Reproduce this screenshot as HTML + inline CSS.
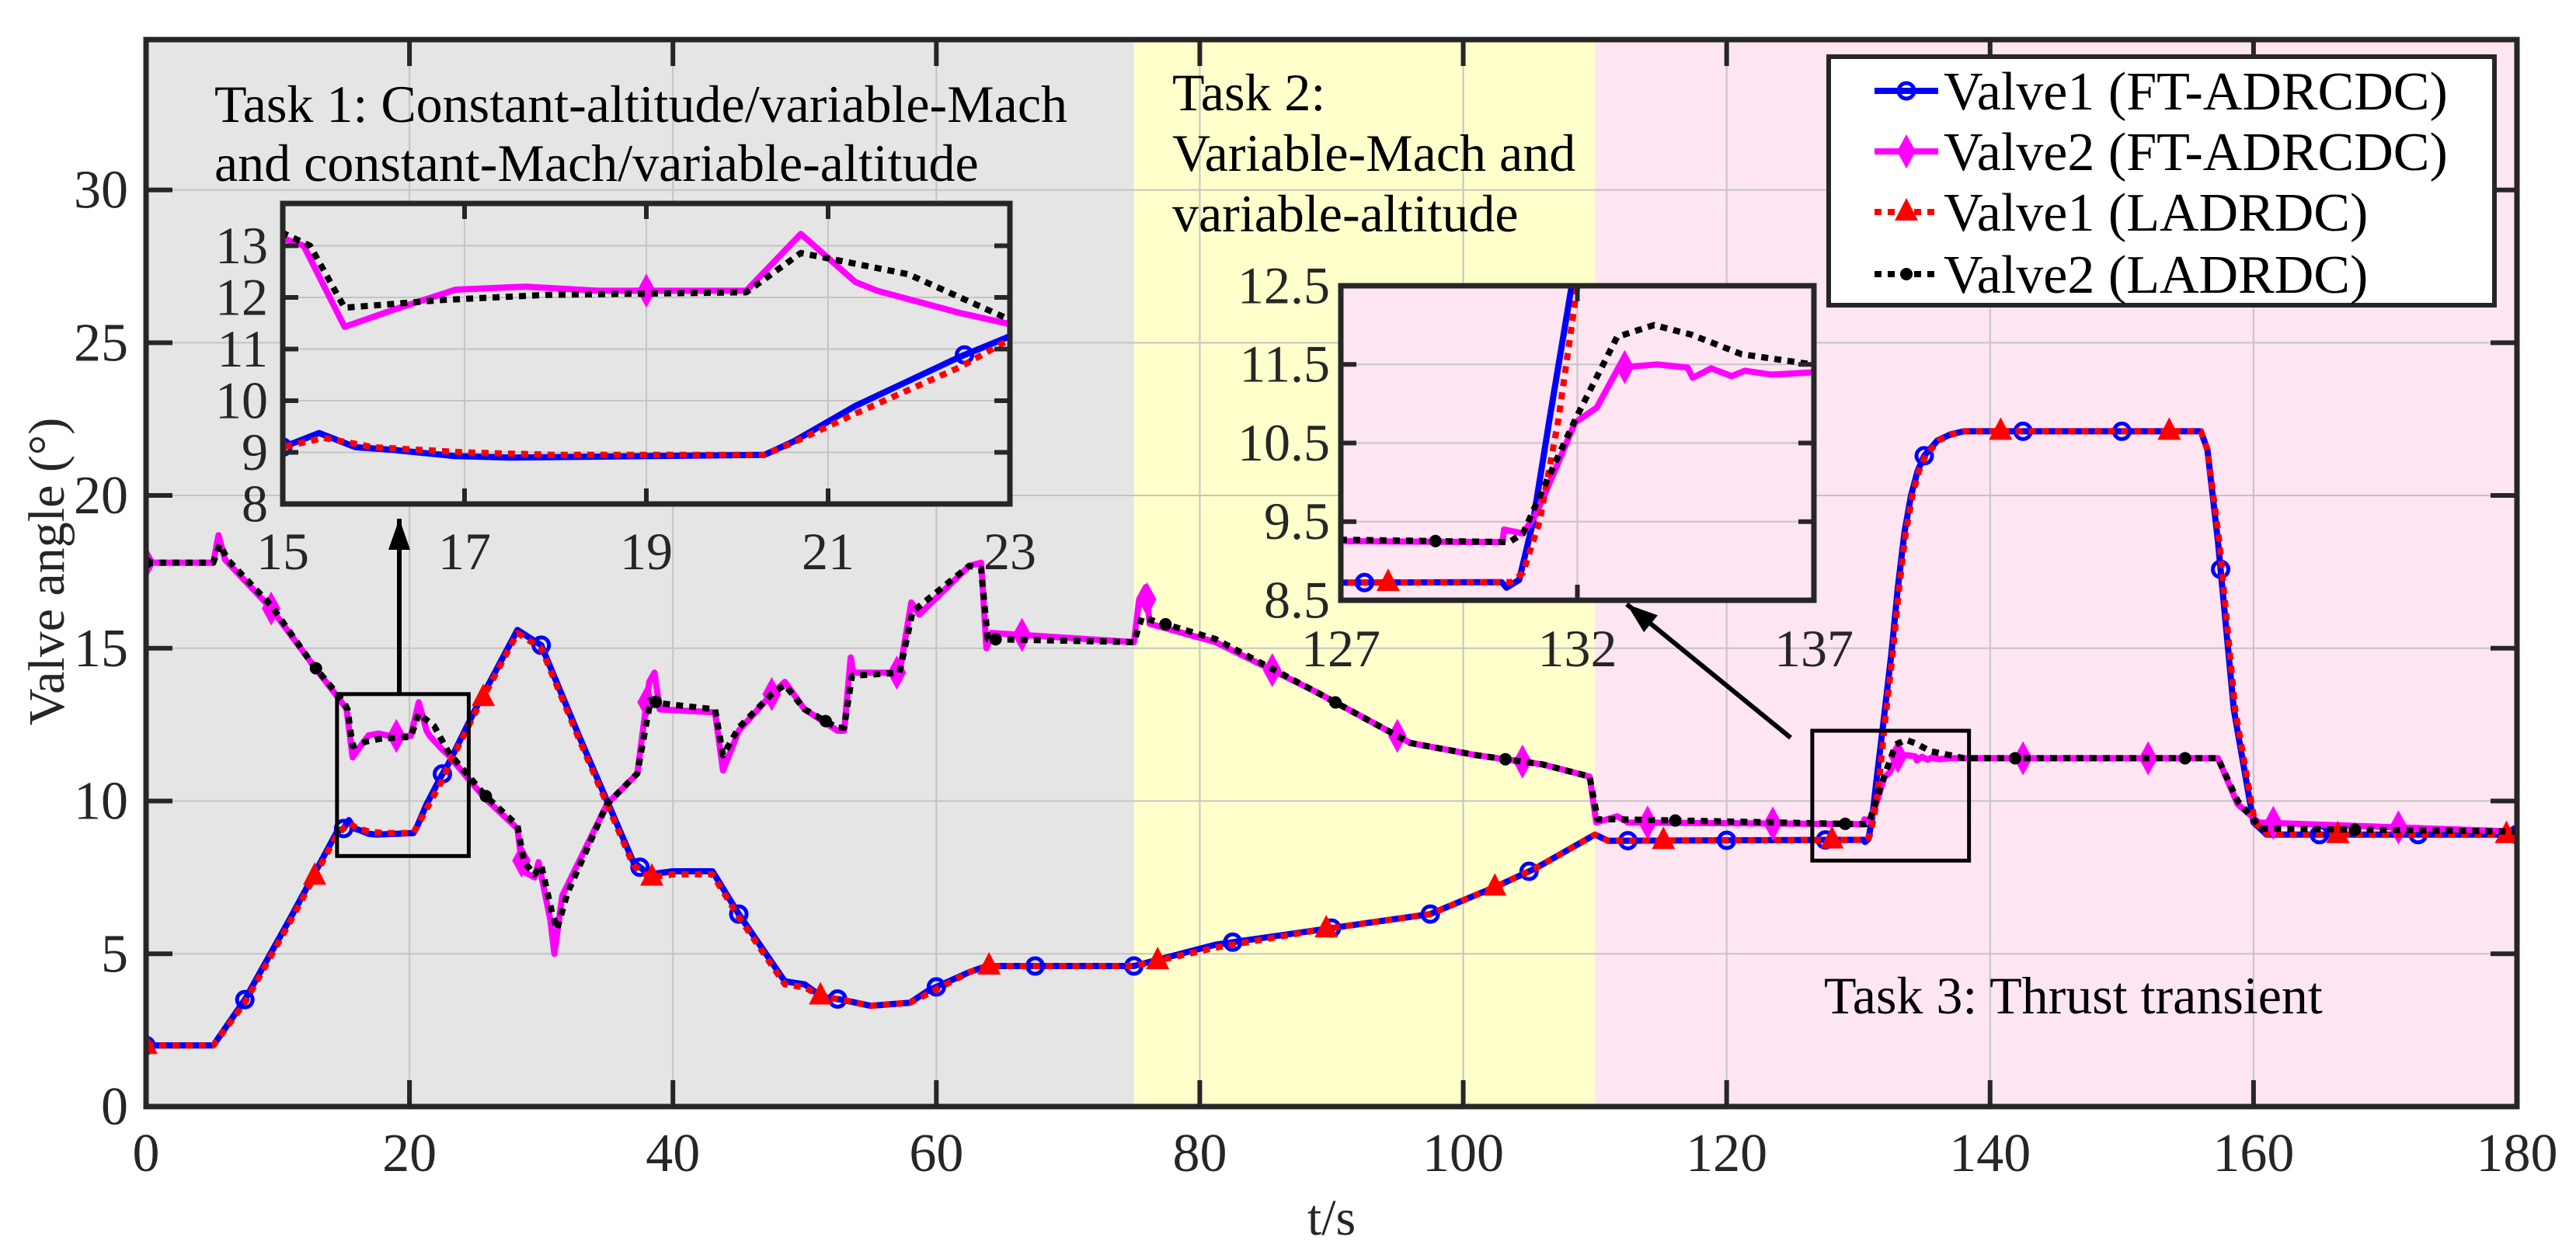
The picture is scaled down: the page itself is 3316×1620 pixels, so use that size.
<!DOCTYPE html>
<html><head><meta charset="utf-8"><style>
html,body{margin:0;padding:0;background:#fff;}
svg{display:block;font-family:"Liberation Serif","Times New Roman",serif;}
</style></head><body>
<svg id="chart" width="3316" height="1620" viewBox="0 0 3316 1620" xmlns="http://www.w3.org/2000/svg">
<defs>
<clipPath id="clipMain"><rect x="188" y="51" width="3052" height="1374"/></clipPath>
<clipPath id="clipIn1"><rect x="364" y="262" width="936" height="387"/></clipPath>
<clipPath id="clipIn2"><rect x="1726" y="368" width="609" height="405"/></clipPath>
</defs>
<g id="layer"></g>
</svg>
<script>
// ---- data ----
const v1FT_t = [0,5.1,7.5,11,13.5,14.5,15,15.4,15.8,16.2,16.88,17.5,20.3,20.63,21.3,22.45,22.96,25,28.2,30,33,37,38.2,40,43,45,48.5,50,51.3,52.8,55,58,59.4,62.5,63.8,75,81.2,89.3,97.5,102.5,105.5,110,111,130.4,130.5,130.77,131.06,131.41,131.88,132.5,133,133.5,134,134.5,135,136,137,138,156,156.5,157.3,158.5,160,161,180];
const v1FT_v = [2.0,2.0,3.5,6.2,8.2,9.0,9.1,9.375,9.1,9.05,8.93,8.9,8.95,9.22,9.9,10.85,11.22,13.0,15.6,15.1,12.0,8.0,7.6,7.7,7.7,6.3,4.1,4.0,3.6,3.5,3.3,3.4,3.8,4.4,4.6,4.6,5.3,5.8,6.3,7.2,7.8,8.9,8.7,8.73,8.66,8.76,9.49,10.8,12.5,14.8,17.0,18.8,20.0,20.8,21.3,21.8,22.0,22.1,22.1,21.5,18.5,13.0,9.3,8.9,8.9];
const v1LA_t = [0,5.1,7.5,11,13.5,14.5,15,15.45,16,17,18,20.3,20.63,21.3,22.45,22.96,25,28.2,30,33,37,38.2,40,43,45,48.5,50,51.3,52.8,55,58,59.4,62.5,63.8,75,81.2,89.3,97.5,102.5,105.5,110,111,130.6,130.85,131.2,131.6,132.0,132.6,133.1,133.6,134.1,134.6,135.1,136.1,137.1,138.1,156,156.5,157.4,158.6,160.1,161.1,180];
const v1LA_v = [2.0,2.0,3.4,6.1,8.1,8.9,9.1,9.28,9.1,9.0,8.95,8.95,9.2,9.75,10.65,11.15,12.9,15.5,15.0,11.9,7.9,7.5,7.6,7.6,6.2,4.0,3.9,3.6,3.5,3.3,3.4,3.7,4.4,4.6,4.6,5.2,5.8,6.3,7.2,7.8,8.9,8.7,8.73,8.85,9.5,10.8,12.5,14.8,17.0,18.8,20.0,20.8,21.3,21.8,22.0,22.1,22.1,21.5,18.5,13.0,9.3,8.9,8.9];
const v2FT_t = [0,5.1,5.5,6,9.5,12.6,15,15.23,15.68,16.2,16.9,17.67,18.47,20.1,20.7,21.3,21.54,22.45,22.96,25.7,28.2,28.6,29.5,29.8,30.7,31,31.6,35,37.3,38.2,38.6,39,43.2,43.8,45,47.5,48.5,50,52.5,53,53.5,53.7,57.2,58.1,58.7,62.5,63.4,63.8,64.2,75,75.4,75.9,76.2,81.2,88.7,96,101,106,109.6,110.1,111.7,112.5,130.42,130.45,130.85,131.13,131.56,131.95,132.41,132.87,133.69,134.33,134.44,134.83,135.26,135.54,136.1,137,157.3,158.8,160.4,180];
const v2FT_v = [17.8,17.8,18.7,17.9,16.3,14.5,13.15,13.0,11.43,11.75,12.15,12.21,12.13,12.13,13.23,12.3,12.13,11.7,11.5,10.1,9.1,7.7,7.5,8.0,6.1,5.0,6.9,9.9,10.9,13.9,14.2,13.0,12.9,11.0,12.3,13.5,13.9,13.0,12.3,12.3,14.7,14.2,14.2,16.5,16.1,17.7,17.8,15.0,15.5,15.2,16.6,17.0,15.8,15.2,13.6,11.9,11.5,11.2,10.8,9.3,9.5,9.3,9.24,9.40,9.35,9.6,10.2,10.76,10.95,11.46,11.5,11.46,11.33,11.45,11.35,11.42,11.37,11.4,11.4,9.9,9.3,9.0];
const v2LA_t = [0,5.1,5.6,6.2,9.5,12.6,15,15.3,15.68,16.76,17.9,20.1,20.7,21.88,22.96,25.7,28.2,28.7,29.5,30,30.8,31.2,32,35,37.3,38.3,39,43.2,43.8,45,47.5,48.5,50,52.5,53,53.6,57.2,58.2,62.5,63.4,63.9,75,75.6,76.5,81.2,88.7,96,101,106,109.6,110.2,111.7,130.56,130.85,131.27,131.98,132.84,133.62,134.4,135.47,136.97,138,157.3,158.8,160.6,180];
const v2LA_v = [17.8,17.8,18.4,17.9,16.4,14.5,13.25,13.0,11.8,11.95,12.05,12.1,12.86,12.45,11.6,10.2,9.2,8.0,7.6,7.9,6.4,5.8,7.0,9.9,10.9,13.3,13.2,13.0,11.5,12.4,13.5,13.8,13.0,12.4,12.4,14.1,14.2,16.2,17.7,17.6,15.3,15.2,16.0,15.9,15.3,13.6,11.9,11.5,11.2,10.8,9.4,9.4,9.24,9.35,9.91,10.83,11.85,12.0,11.88,11.63,11.5,11.4,11.4,10.0,9.1,9.0];
const markerStep = [7.5, 9.5, 12.8, 12.9];
const seriesNames = ["Valve1 (FT-ADRCDC)","Valve2 (FT-ADRCDC)","Valve1 (LADRDC)","Valve2 (LADRDC)"];
const xTicksMain = [0,20,40,60,80,100,120,140,160,180];
const yTicksMain = [0,5,10,15,20,25,30];
const xTicksIn1 = [15,17,19,21,23];
const yTicksIn1 = [8,9,10,11,12,13];
const xTicksIn2 = [127,132,137];
const yTicksIn2 = [8.5,9.5,10.5,11.5,12.5];
const regionBounds = [0,75,110,180];

const NS="http://www.w3.org/2000/svg";
const layer=document.getElementById('layer');
function mk(tag,attrs,parent){const e=document.createElementNS(NS,tag);for(const k in attrs)e.setAttribute(k,attrs[k]);(parent||layer).appendChild(e);return e;}

const axes={
 main:{x0:188,x1:3240,y0:1425,y1:51,t0:0,t1:180,v0:0,v1:34.92,clip:'clipMain'},
 in1:{x0:364,x1:1300,y0:649,y1:262,t0:15,t1:23,v0:8,v1:13.82,clip:'clipIn1'},
 in2:{x0:1726,x1:2335,y0:773,y1:368,t0:127,t1:137,v0:8.5,v1:12.5,clip:'clipIn2'}
};
function sx(a,t){return a.x0+(t-a.t0)/(a.t1-a.t0)*(a.x1-a.x0);}
function sy(a,v){return a.y0-(v-a.v0)/(a.v1-a.v0)*(a.y0-a.y1);}
function interp(T,V,t){for(let i=1;i<T.length;i++){if(t<=T[i]){const f=(t-T[i-1])/(T[i]-T[i-1]);return V[i-1]+f*(V[i]-V[i-1]);}}return V[V.length-1];}

const series=[
 {t:v1FT_t,v:v1FT_v,color:'#0000ff',dash:null,marker:'circle',name:'valve1-ft-adrcdc'},
 {t:v2FT_t,v:v2FT_v,color:'#ff00ff',dash:null,marker:'diamond',name:'valve2-ft-adrcdc'},
 {t:v1LA_t,v:v1LA_v,color:'#ff0000',dash:'9 8',marker:'triangle',name:'valve1-ladrdc'},
 {t:v2LA_t,v:v2LA_v,color:'#000000',dash:'9 8',marker:'dot',name:'valve2-ladrdc'}
];

function drawMarker(g,type,x,y,color,s){
 let m;
 if(type==='circle'){m=mk('circle',{cx:x,cy:y,r:10*s,fill:'none',stroke:color,'stroke-width':5},g);}
 else if(type==='diamond'){m=mk('polygon',{points:`${x},${y-22*s} ${x+12*s},${y} ${x},${y+22*s} ${x-12*s},${y}`,fill:color},g);}
 else if(type==='triangle'){m=mk('polygon',{points:`${x},${y-18*s} ${x+15*s},${y+11*s} ${x-15*s},${y+11*s}`,fill:color},g);}
 else {m=mk('circle',{cx:x,cy:y,r:8*s,fill:color},g);}
 return m;
}

function drawAxes(a,key,bgFn,xt,yt){
 const g=mk('g',{});
 
 
 bgFn(g);
 xt.forEach(t=>{const l=mk('line',{x1:sx(a,t),x2:sx(a,t),y1:a.y1,y2:a.y0,stroke:'#c4c4c4','stroke-width':2},g);});
 yt.forEach(v=>{const l=mk('line',{x1:a.x0,x2:a.x1,y1:sy(a,v),y2:sy(a,v),stroke:'#c4c4c4','stroke-width':2},g);});
 return g;
}

function drawSeries(a,key){
 const g=mk('g',{'clip-path':`url(#${a.clip})`});
 
 
 series.forEach((s,i)=>{
  const pts=s.t.map((t,j)=>sx(a,t).toFixed(1)+','+sy(a,s.v[j]).toFixed(1)).join(' ');
  const pl=mk('polyline',{points:pts,fill:'none',stroke:s.color,'stroke-width':8,'stroke-linejoin':'round'},g);
  if(s.dash)pl.setAttribute('stroke-dasharray',s.dash);
  
  
  for(let t=0;t<=180.001;t+=markerStep[i]){
   if(t<a.t0-0.01||t>a.t1+0.01)continue;
   const m=drawMarker(g,s.marker,sx(a,t),sy(a,interp(s.t,s.v,t)),s.color,1);
   
   
  }
 });
}

function drawFrame(a,key,xt,yt,tickLen,xLabelY,yLabelX,fs,fmt){
 const g=mk('g',{});
 
 
 xt.forEach(t=>{const x=sx(a,t);
  mk('line',{x1:x,x2:x,y1:a.y0,y2:a.y0-tickLen,stroke:'#262626','stroke-width':6},g);
  mk('line',{x1:x,x2:x,y1:a.y1,y2:a.y1+tickLen,stroke:'#262626','stroke-width':6},g);
  const tx=mk('text',{x:x,y:xLabelY,'text-anchor':'middle','font-size':fs,fill:'#262626'},g);tx.textContent=fmt(t);
  
 });
 yt.forEach(v=>{const y=sy(a,v);
  mk('line',{x1:a.x0,x2:a.x0+tickLen,y1:y,y2:y,stroke:'#262626','stroke-width':6},g);
  mk('line',{x1:a.x1,x2:a.x1-tickLen,y1:y,y2:y,stroke:'#262626','stroke-width':6},g);
  const ty=mk('text',{x:yLabelX,y:y+fs*0.33,'text-anchor':'end','font-size':fs,fill:'#262626'},g);ty.textContent=fmt(v);
  
 });
 const r=mk('rect',{x:a.x0,y:a.y1,width:a.x1-a.x0,height:a.y0-a.y1,fill:'none',stroke:'#262626','stroke-width':7},g);
 
}

// ---- main axes ----
const M=axes.main;
drawAxes(M,'main',g=>{
 const cols=['#e5e5e5','#ffffcc','#fde5f1'];
 for(let i=0;i<3;i++){const r=mk('rect',{x:sx(M,regionBounds[i]),y:M.y1,width:sx(M,regionBounds[i+1])-sx(M,regionBounds[i]),height:M.y0-M.y1,fill:cols[i]},g);
  }
},xTicksMain,yTicksMain);
drawSeries(M,'main');
drawFrame(M,'main',xTicksMain,yTicksMain,34,1508,165,70,v=>String(v));

function label(lines,x,y0,dy,name){const t=mk('text',{x:x,y:y0,'font-size':68,fill:'#000'});
 
 lines.forEach((s,i)=>{const sp=mk('tspan',{x:x,y:y0+i*dy},t);sp.textContent=s;});}
label(['Task 1: Constant-altitude/variable-Mach','and constant-Mach/variable-altitude'],276,157,76,'task-1-label');
label(['Task 2:','Variable-Mach and','variable-altitude'],1509,142,78,'task-2-label');
label(['Task 3: Thrust transient'],2348,1305,76,'task-3-label');

function zbox(t0,t1,v0,v1,name){const r=mk('rect',{x:sx(M,t0),y:sy(M,v1),width:sx(M,t1)-sx(M,t0),height:sy(M,v0)-sy(M,v1),fill:'none',stroke:'#000','stroke-width':5});
 }
zbox(14.5,24.5,8.2,13.5,'zoom-box-1');
zbox(126.5,138.4,8.05,12.3,'zoom-box-2');
function arrow(x1,y1,x2,y2,name){const g=mk('g',{});
 mk('line',{x1:x1,y1:y1,x2:x2,y2:y2,stroke:'#000','stroke-width':6},g);
 const ang=Math.atan2(y2-y1,x2-x1),L=40,W=14;
 const bx=x2-L*Math.cos(ang),by=y2-L*Math.sin(ang);
 mk('polygon',{points:`${x2},${y2} ${bx+W*Math.sin(ang)},${by-W*Math.cos(ang)} ${bx-W*Math.sin(ang)},${by+W*Math.cos(ang)}`,fill:'#000'},g);}
arrow(514,893,514,668,'arrow-to-inset-1');
arrow(2305,950,2094,778,'arrow-to-inset-2');

// ---- inset 1 ----
const I1=axes.in1;
drawAxes(I1,'inset1',g=>{const r=mk('rect',{x:I1.x0,y:I1.y1,width:I1.x1-I1.x0,height:I1.y0-I1.y1,fill:'#e5e5e5'},g);},xTicksIn1,yTicksIn1);
drawSeries(I1,'inset1');
drawFrame(I1,'inset1',xTicksIn1,yTicksIn1,20,733,345,68,v=>String(v));

// ---- inset 2 ----
const I2=axes.in2;
drawAxes(I2,'inset2',g=>{const r=mk('rect',{x:I2.x0,y:I2.y1,width:I2.x1-I2.x0,height:I2.y0-I2.y1,fill:'#fde5f1'},g);},xTicksIn2,yTicksIn2);
drawSeries(I2,'inset2');
drawFrame(I2,'inset2',xTicksIn2,yTicksIn2,20,858,1712,68,v=>v.toFixed(v%1?1:0));

// ---- axis titles ----
const xt=mk('text',{x:1714,y:1590,'text-anchor':'middle','font-size':66,fill:'#262626'});xt.textContent='t/s';

const yt=mk('text',{x:0,y:0,'text-anchor':'middle','font-size':66,fill:'#262626',transform:'translate(82,736) rotate(-90)'});yt.textContent='Valve angle (°)';


// ---- legend ----
const lg=mk('g',{});


mk('rect',{x:2354,y:73,width:857,height:320,fill:'#fff',stroke:'#262626','stroke-width':6},lg);
const rowY=[117,195,273,353];
series.forEach((s,i)=>{
 const e=mk('g',{},lg);
 
 
 const l=mk('line',{x1:2413,x2:2495,y1:rowY[i],y2:rowY[i],stroke:s.color,'stroke-width':8},e);
 if(s.dash)l.setAttribute('stroke-dasharray',s.dash);
 drawMarker(e,s.marker,2454,rowY[i],s.color,1);
 const t=mk('text',{x:2502,y:rowY[i]+24,'font-size':70,fill:'#000'},e);t.textContent=seriesNames[i];
});
</script>
</body></html>
